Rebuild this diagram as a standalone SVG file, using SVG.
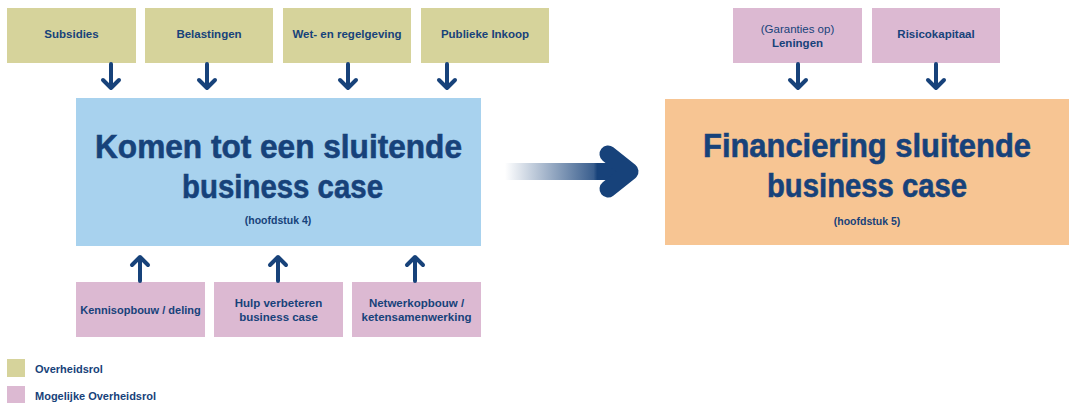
<svg xmlns="http://www.w3.org/2000/svg" width="1070" height="403" viewBox="0 0 1070 403">
  <style>
    .gov { fill: #d6d39b; }
    .maybe { fill: #dcb9d2; }
    .main { fill: #a8d2ee; }
    .fin { fill: #f7c593; }
    text { font-family: "Liberation Sans", Arial, sans-serif; fill: #17427a; text-anchor: middle; }
    .lbl { font-size: 11.5px; font-weight: bold; }
    .reg { font-size: 11.5px; font-weight: normal; }
    .title { font-size: 34px; font-weight: bold; stroke: #17427a; stroke-width: 0.6; }
    .sub { font-size: 10.5px; font-weight: bold; }
    .leg { font-size: 11px; font-weight: bold; text-anchor: start; }
    .arr { fill: none; stroke: #17427a; stroke-width: 4; stroke-linecap: round; stroke-linejoin: round; }
  </style>
  <defs>
    <linearGradient id="fade" x1="505" y1="0" x2="628" y2="0" gradientUnits="userSpaceOnUse">
      <stop offset="0" stop-color="#17427a" stop-opacity="0"/>
      <stop offset="0.72" stop-color="#17427a" stop-opacity="0.85"/>
      <stop offset="0.75" stop-color="#17427a" stop-opacity="1"/>
    </linearGradient>
  </defs>

  <!-- government instruments (top row) -->
  <g id="subsidies"><rect class="gov" x="7" y="8" width="129" height="55"/><text class="lbl" x="71.5" y="38">Subsidies</text></g>
  <g id="belastingen"><rect class="gov" x="145" y="8" width="128" height="55"/><text class="lbl" x="209" y="38">Belastingen</text></g>
  <g id="wetgeving"><rect class="gov" x="283" y="8" width="128" height="55"/><text class="lbl" x="347" y="38">Wet- en regelgeving</text></g>
  <g id="inkoop"><rect class="gov" x="421" y="8" width="128" height="55"/><text class="lbl" x="485" y="38">Publieke Inkoop</text></g>

  <!-- financing instruments -->
  <g id="leningen"><rect class="maybe" x="733" y="8" width="129" height="55"/><text class="reg" x="797.5" y="33">(Garanties op)</text><text class="lbl" x="797.5" y="47">Leningen</text></g>
  <g id="risicokapitaal"><rect class="maybe" x="872" y="8" width="128" height="55"/><text class="lbl" x="936" y="38">Risicokapitaal</text></g>

  <!-- main blocks -->
  <g id="businesscase">
    <rect class="main" x="76" y="98" width="405" height="148"/>
    <text class="title" x="278.5" y="158" textLength="367" lengthAdjust="spacingAndGlyphs">Komen tot een sluitende</text>
    <text class="title" x="282.5" y="198" textLength="201" lengthAdjust="spacingAndGlyphs">business case</text>
    <text class="sub" x="278" y="224">(hoofdstuk 4)</text>
  </g>
  <g id="financiering">
    <rect class="fin" x="665" y="99" width="404" height="146"/>
    <text class="title" x="867" y="157" textLength="328" lengthAdjust="spacingAndGlyphs">Financiering sluitende</text>
    <text class="title" x="867" y="197" textLength="200" lengthAdjust="spacingAndGlyphs">business case</text>
    <text class="sub" x="867" y="225">(hoofdstuk 5)</text>
  </g>

  <!-- support roles (bottom row) -->
  <g id="kennis"><rect class="maybe" x="76" y="282" width="129" height="55"/><text class="lbl" x="140.5" y="314" style="font-size:11px">Kennisopbouw / deling</text></g>
  <g id="hulp"><rect class="maybe" x="214" y="282" width="129" height="55"/><text class="lbl" x="278.5" y="307">Hulp verbeteren</text><text class="lbl" x="278.5" y="321">business case</text></g>
  <g id="netwerk"><rect class="maybe" x="352" y="282" width="129" height="55"/><text class="lbl" x="416.5" y="307">Netwerkopbouw /</text><text class="lbl" x="416.5" y="321">ketensamenwerking</text></g>

  <!-- connectors -->
  <g id="connectors">
    <path class="arr" d="M111 64V88M103 80L111 88L119 80"/>
    <path class="arr" d="M207 64V88M199 80L207 88L215 80"/>
    <path class="arr" d="M348 64V88M340 80L348 88L356 80"/>
    <path class="arr" d="M447 64V88M439 80L447 88L455 80"/>
    <path class="arr" d="M798 64V88M790 80L798 88L806 80"/>
    <path class="arr" d="M936 64V88M928 80L936 88L944 80"/>
    <path class="arr" d="M140 281V257M132 265L140 257L148 265"/>
    <path class="arr" d="M278 281V257M270 265L278 257L286 265"/>
    <path class="arr" d="M415 281V257M407 265L415 257L423 265"/>
    <rect x="505" y="163" width="123" height="17" fill="url(#fade)"/>
    <polyline points="608,154 630,171.5 608,189" fill="none" stroke="#17427a" stroke-width="17" stroke-linecap="round" stroke-linejoin="round"/>
  </g>

  <!-- legend -->
  <g id="legend">
    <rect class="gov" x="7" y="359" width="18" height="18"/>
    <text class="leg" x="35" y="373">Overheidsrol</text>
    <rect class="maybe" x="7" y="386" width="18" height="17"/>
    <text class="leg" x="35" y="400">Mogelijke Overheidsrol</text>
  </g>
</svg>
